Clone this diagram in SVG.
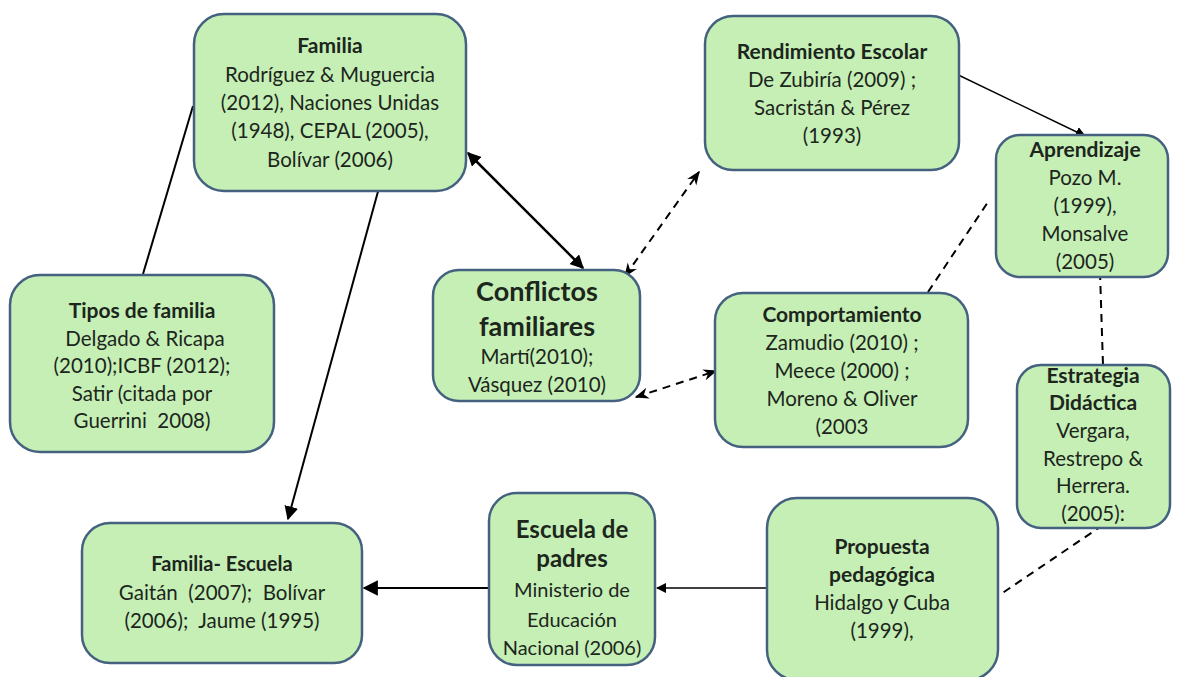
<svg xmlns="http://www.w3.org/2000/svg" width="1177" height="677" viewBox="0 0 1177 677">
<defs>
<style>
.box{fill:#c6efb6;stroke:#44627f;stroke-width:2.5}
text{font-family:Lato,"Open Sans",sans-serif;fill:#1c261c;text-anchor:middle;font-size:20.5px;white-space:pre}
.b{font-weight:bold;font-size:21px}
.big{font-weight:bold;font-size:27px}
.mid{font-weight:bold;font-size:24px}
.ln{stroke:#000;fill:none}
.dash{stroke-dasharray:8 6}
</style>
<marker id="ah" viewBox="0 0 10 10" refX="9" refY="5" markerWidth="5.5" markerHeight="5.5" orient="auto-start-reverse" markerUnits="strokeWidth"><path d="M0,0 L10,5 L0,10 z" fill="#000"/></marker>
<marker id="ahs" viewBox="0 0 10 10" refX="9" refY="5" markerWidth="7" markerHeight="7" orient="auto-start-reverse" markerUnits="strokeWidth"><path d="M0,1 L10,5 L0,9 L3,5 z" fill="#000"/></marker>
<marker id="ahm" viewBox="0 0 10 10" refX="9" refY="5" markerWidth="7" markerHeight="7" orient="auto-start-reverse" markerUnits="strokeWidth"><path d="M0,0 L10,5 L0,10 z" fill="#000"/></marker>
</defs>
<rect width="1177" height="677" fill="#fff"/>
<g id="connectors">
<line class="ln" x1="193" y1="106" x2="143" y2="274" stroke-width="2"/>
<line class="ln" x1="385" y1="166" x2="288" y2="519" stroke-width="2" marker-end="url(#ahm)"/>
<line class="ln" x1="468" y1="153" x2="583" y2="268" stroke-width="2.5" marker-start="url(#ah)" marker-end="url(#ah)"/>
<line class="ln dash" x1="625" y1="276" x2="699" y2="172" stroke-width="2" marker-start="url(#ahs)" marker-end="url(#ahs)"/>
<line class="ln" x1="948" y1="70" x2="1085" y2="136" stroke-width="1.5" marker-end="url(#ahm)"/>
<line class="ln dash" x1="928" y1="292" x2="990" y2="199" stroke-width="2"/>
<line class="ln dash" x1="636" y1="397" x2="716" y2="371" stroke-width="2" marker-start="url(#ahs)" marker-end="url(#ahs)"/>
<line class="ln dash" x1="1100" y1="272" x2="1103" y2="365" stroke-width="2"/>
<line class="ln dash" x1="1103" y1="525" x2="998" y2="596" stroke-width="2"/>
<line class="ln" x1="767" y1="588" x2="657" y2="588" stroke-width="1.5" marker-end="url(#ahm)"/>
<line class="ln" x1="489" y1="588" x2="364" y2="588" stroke-width="2.2" marker-end="url(#ahm)"/>
</g>
<g id="familia">
<rect class="box" x="194" y="14" width="272" height="177" rx="30"/>
<text class="b" x="330" y="53">Familia</text>
<text x="330" y="82">Rodríguez &amp; Muguercia</text>
<text x="330" y="110">(2012), Naciones Unidas</text>
<text x="330" y="138">(1948), CEPAL (2005),</text>
<text x="330" y="167">Bolívar (2006)</text>
</g>
<g id="tipos">
<rect class="box" x="10" y="275" width="264" height="177" rx="30"/>
<text class="b" x="142" y="318">Tipos de familia</text>
<text x="145" y="346">Delgado &amp; Ricapa</text>
<text x="142" y="373">(2010);ICBF (2012);</text>
<text x="142" y="401">Satir (citada por</text>
<text x="142" y="428">Guerrini  2008)</text>
</g>
<g id="conflictos">
<rect class="box" x="433" y="270" width="207" height="131" rx="26"/>
<text class="big" x="537" y="301">Conflictos</text>
<text class="big" x="537" y="336">familiares</text>
<text x="537" y="364">Martí(2010);</text>
<text x="537" y="392">Vásquez (2010)</text>
</g>
<g id="rendimiento">
<rect class="box" x="705" y="16" width="254" height="154" rx="28"/>
<text class="b" x="832" y="59">Rendimiento Escolar</text>
<text x="832" y="87">De Zubiría (2009) ;</text>
<text x="832" y="115">Sacristán &amp; Pérez</text>
<text x="832" y="143">(1993)</text>
</g>
<g id="aprendizaje">
<rect class="box" x="996" y="135" width="172" height="142" rx="24"/>
<text class="b" x="1085" y="157">Aprendizaje</text>
<text x="1085" y="185">Pozo M.</text>
<text x="1085" y="213">(1999),</text>
<text x="1085" y="241">Monsalve</text>
<text x="1085" y="269">(2005)</text>
</g>
<g id="comportamiento">
<rect class="box" x="715" y="293" width="253" height="154" rx="28"/>
<text class="b" x="842" y="322">Comportamiento</text>
<text x="842" y="350">Zamudio (2010) ;</text>
<text x="842" y="378">Meece (2000) ;</text>
<text x="842" y="406">Moreno &amp; Oliver</text>
<text x="842" y="434">(2003</text>
</g>
<g id="estrategia">
<rect class="box" x="1017" y="365" width="153" height="163" rx="24"/>
<text class="b" x="1093" y="383">Estrategia</text>
<text class="b" x="1093" y="410">Didáctica</text>
<text x="1093" y="438">Vergara,</text>
<text x="1093" y="466">Restrepo &amp;</text>
<text x="1093" y="493">Herrera.</text>
<text x="1093" y="521">(2005):</text>
</g>
<g id="propuesta">
<rect class="box" x="767" y="498" width="231" height="182" rx="30"/>
<text class="b" x="882" y="554">Propuesta</text>
<text class="b" x="882" y="582">pedagógica</text>
<text x="882" y="610">Hidalgo y Cuba</text>
<text x="882" y="638">(1999),</text>
</g>
<g id="escuela">
<rect class="box" x="489" y="493" width="166" height="172" rx="28"/>
<text class="mid" x="572" y="538">Escuela de</text>
<text class="mid" x="572" y="567">padres</text>
<text x="572" y="597" style="font-size:20px">Ministerio de</text>
<text x="572" y="627" style="font-size:20px">Educación</text>
<text x="572" y="655" style="font-size:20px">Nacional (2006)</text>
</g>
<g id="familia-escuela">
<rect class="box" x="82" y="523" width="280" height="140" rx="28"/>
<text class="b" x="222" y="571" style="font-size:20px">Familia- Escuela</text>
<text x="222" y="600">Gaitán  (2007);  Bolívar</text>
<text x="222" y="628">(2006);  Jaume (1995)</text>
</g>
</svg>
